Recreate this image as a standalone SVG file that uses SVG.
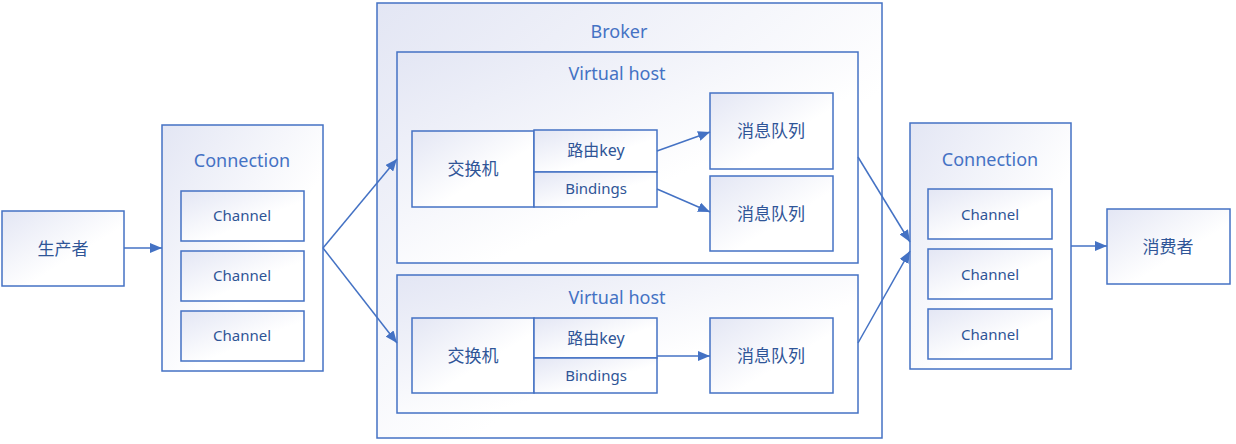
<svg xmlns="http://www.w3.org/2000/svg" width="1236" height="444" viewBox="0 0 1236 444">
<defs>
<linearGradient id="g" x1="0" y1="0" x2="1" y2="1">
<stop offset="0" stop-color="#e3e6f4"/>
<stop offset="0.6" stop-color="#ffffff"/>
<stop offset="1" stop-color="#ffffff"/>
</linearGradient>
<marker id="a" viewBox="0 0 12 10" refX="12" refY="5" markerWidth="12" markerHeight="10" markerUnits="userSpaceOnUse" orient="auto">
<path d="M0,0 L12,5 L0,10 Z" fill="#4472c4"/>
</marker>
<style>
rect{fill:url(#g);stroke:#4472c4;stroke-width:1.5}
text{font-family:"Noto Sans","Noto Sans CJK SC",sans-serif;text-anchor:middle;dominant-baseline:central}
.t{fill:#4472c4;font-size:18px}
.l{fill:#2f5597;font-size:15px}
.c{fill:#2f5597;font-size:17px}
.e line{stroke:#4472c4;stroke-width:1.5;marker-end:url(#a)}
</style>
</defs>
<rect x="0" y="0" width="1236" height="444" style="fill:#fff;stroke:none"/>
<g id="producer"><rect x="2" y="211" width="122" height="75"/><text class="c" x="63" y="248">生产者</text></g>
<g id="conn1"><rect x="162" y="125" width="161" height="246"/><text class="t" x="242" y="160">Connection</text>
<rect x="181" y="191" width="123" height="50"/><text class="l" x="242" y="215">Channel</text>
<rect x="181" y="251" width="123" height="50"/><text class="l" x="242" y="275">Channel</text>
<rect x="181" y="311" width="123" height="50"/><text class="l" x="242" y="335">Channel</text></g>
<g id="broker"><rect x="377" y="3" width="505" height="435"/><text class="t" x="619" y="31">Broker</text></g>
<g id="vhost1"><rect x="397" y="52" width="461" height="211"/><text class="t" x="617" y="73">Virtual host</text>
<rect x="412" y="131" width="122" height="76"/><text class="c" x="473" y="168">交换机</text>
<rect x="534" y="130" width="123" height="42"/><text class="c" x="596" y="150" style="font-size:16px">路由key</text>
<rect x="534" y="172" width="123" height="35"/><text class="l" x="596" y="188">Bindings</text>
<rect x="710" y="93" width="123" height="76"/><text class="c" x="771" y="130">消息队列</text>
<rect x="710" y="176" width="123" height="75"/><text class="c" x="771" y="213">消息队列</text></g>
<g id="vhost2"><rect x="397" y="275" width="461" height="138"/><text class="t" x="617" y="297">Virtual host</text>
<rect x="412" y="318" width="122" height="75"/><text class="c" x="473" y="355">交换机</text>
<rect x="534" y="318" width="123" height="40"/><text class="c" x="596" y="338" style="font-size:16px">路由key</text>
<rect x="534" y="358" width="123" height="35"/><text class="l" x="596" y="375">Bindings</text>
<rect x="710" y="318" width="123" height="75"/><text class="c" x="771" y="355">消息队列</text></g>
<g id="conn2"><rect x="910" y="123" width="161" height="246"/><text class="t" x="990" y="159">Connection</text>
<rect x="928" y="189" width="124" height="50"/><text class="l" x="990" y="214">Channel</text>
<rect x="928" y="249" width="124" height="50"/><text class="l" x="990" y="274">Channel</text>
<rect x="928" y="309" width="124" height="50"/><text class="l" x="990" y="334">Channel</text></g>
<g id="consumer"><rect x="1107" y="209" width="123" height="75"/><text class="c" x="1168" y="246">消费者</text></g>
<g id="edges" class="e">
<line x1="124" y1="248" x2="162" y2="248"/>
<line x1="323" y1="248" x2="397" y2="159"/>
<line x1="323" y1="248" x2="397" y2="343"/>
<line x1="657" y1="151" x2="710" y2="132"/>
<line x1="657" y1="189" x2="710" y2="212"/>
<line x1="657" y1="356" x2="710" y2="356"/>
<line x1="858" y1="157" x2="910" y2="242"/>
<line x1="858" y1="343" x2="910" y2="251"/>
<line x1="1071" y1="246" x2="1107" y2="246"/>
</g>
</svg>
